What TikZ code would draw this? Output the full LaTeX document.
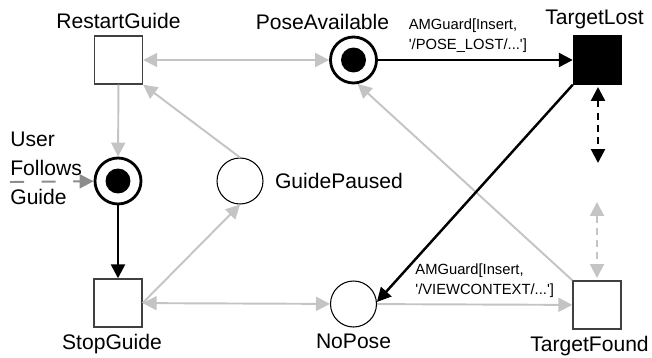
\documentclass[tikz,border=0pt]{standalone}
\usepackage{fontspec}
\setmainfont{Liberation Sans}
\usetikzlibrary{arrows.meta}

\definecolor{arcgray}{RGB}{196,196,196}
\definecolor{ingray}{RGB}{140,140,140}

\begin{document}
\begin{tikzpicture}[
    x=0.02cm, y=-0.02cm,
    >={Triangle[length=0.28cm, width=0.28cm]},
    place/.style={circle, draw, minimum size=0.92cm, inner sep=0pt, line width=0.6pt},
    marked/.style={place, line width=1.6pt,
        path picture={\fill (path picture bounding box.center) circle (0.25cm);}},
    trans/.style={rectangle, draw=black!75, minimum size=0.96cm, inner sep=0pt, line width=0.8pt},
    every label/.style={font=\fontsize{12}{14}\selectfont},
    guard/.style={font=\fontsize{8.4}{11.4}\selectfont, align=left},
    grayarc/.style={draw=arcgray, line width=1.1pt},
    blackarc/.style={draw=black, line width=1.4pt},
    stub/.style={dash pattern=on 4pt off 3pt}
]
    \useasboundingbox (0,0) rectangle (652,358);

    % Top row
    \node[trans, label=above:RestartGuide] (restart)   at (118.5,60) {};
    \node[marked, label={[xshift=-0.62cm]above:PoseAvailable}] (poseavail) at (353.5,60) {};
    \node[trans, fill=black, draw=black, label={[xshift=-0.06cm]above:TargetLost}] (lost) at (597.5,60) {};

    % Middle row
    \node[marked] (follows) at (118,181) {};
    \node[place, label={[label distance=3pt]right:GuidePaused}] (paused) at (240,181) {};
    \node[font=\fontsize{12}{16.5}\selectfont, align=left, anchor=north west, inner sep=0pt]
        (followslbl) at (10,132) {User\\Follows\\Guide};
    \coordinate (userin) at (10,182);

    % Bottom row
    \node[trans, label={[xshift=-0.12cm]below:StopGuide}] (stop)   at (118,303) {};
    \node[place, label=below:NoPose]    (nopose) at (353.5,304) {};
    \node[trans, label={[xshift=-0.15cm]below:TargetFound}] (found) at (597,305) {};

    % Free ends of the dashed stubs
    \coordinate (lostend1)  at (598,87);
    \coordinate (lostend2)  at (598,163);
    \coordinate (foundend1) at (597,202);
    \coordinate (foundend2) at (597,278);

    % Gray arcs
    \draw[grayarc, <->] (restart) -- (poseavail);
    \draw[grayarc, ->] (restart) -- (follows);
    \draw[grayarc, ->] (paused.north) -- (restart.south east);
    \draw[grayarc, ->] (stop.east) -- (paused.south);
    \draw[grayarc, <->] (stop) -- (nopose);
    \draw[grayarc, ->] (nopose) -- node[guard, above, xshift=0.2cm] (guardview)
        {AMGuard[Insert,\\\textquotesingle/VIEWCONTEXT/...\textquotesingle]} (found);
    \draw[grayarc, ->] (found.north west) -- (poseavail.-80);
    \draw[draw=ingray, line width=1.1pt, dash pattern=on 8pt off 10pt, -{Triangle[length=0.28cm, width=0.28cm]}]
        (userin) -- (follows);

    % Black arcs
    \draw[blackarc, ->] (follows) -- (stop);
    \draw[blackarc, ->] (poseavail) -- node[guard, above, xshift=-0.15cm] (guardlost)
        {AMGuard[Insert,\\\textquotesingle/POSE\_LOST/...\textquotesingle]} (lost);
    \draw[blackarc, ->] (lost.south west) -- (nopose.5);

    % Dashed stubs
    \draw[blackarc, stub, <->] (lostend1) -- (lostend2);
    \draw[grayarc, stub, <->] (foundend1) -- (foundend2);
\end{tikzpicture}
\end{document}
